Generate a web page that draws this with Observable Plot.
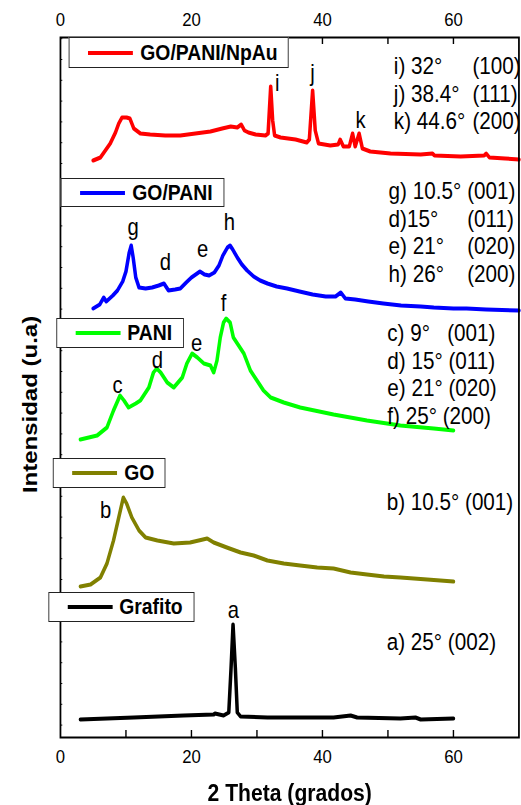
<!DOCTYPE html>
<html>
<head>
<meta charset="utf-8">
<script src="https://cdn.jsdelivr.net/npm/d3@7"></script>
<script src="https://cdn.jsdelivr.net/npm/@observablehq/plot@0.6"></script>
<style>
  html, body { margin: 0; padding: 0; background: #fff; overflow: hidden; }
  /* the figure is laid out wide and condensed horizontally, like the exported figure */
  #figure { position: relative; width: 592px; height: 805px; transform: scaleX(0.88); transform-origin: 0 0;
            font-family: "Liberation Sans", Arial, sans-serif; }
  .key { position: absolute; box-sizing: border-box; height: 30px; border: 1px solid #222; background: #fff;
         display: flex; align-items: center; padding: 0 12px 0 21px; font-weight: bold; font-size: 22px;
         white-space: nowrap; color: #000; }
  .key .swatch { width: 51px; height: 4px; margin-right: 8px; }
</style>
</head>
<body>
<div id="figure"></div>
<script>
// XRD patterns, [2θ (°), intensity (u.a., stacked offsets)]
const npauPattern = [
  [5.0,577],[6.1,580],[7.6,594],[8.4,605],[8.9,614],[9.4,620],[10.1,620],[10.6,619],[11.2,609],[12.2,604],
  [13.7,603],[16.0,602],[18.3,602],[20.6,604],[22.9,606],[24.7,609],[26.0,611],[27.0,610],[27.6,613],[28.1,607],
  [28.7,605],[29.8,603],[31.3,602],[31.7,604],[32.1,651],[32.4,617],[32.7,602],[33.6,600],[35.9,598],[37.6,595],
  [38.0,598],[38.5,647],[38.9,607],[39.4,594],[41.2,592],[42.4,593],[42.7,598],[43.2,591],[44.1,591],[44.6,604],
  [45.0,591],[45.6,604],[46.1,589],[47.3,586],[50.4,584],[55.0,583],[56.8,584],[57.1,582],[61.1,581],[64.7,582],
  [65.0,584],[65.5,580],[67.9,579],[70.0,578]
];
const goPaniPattern = [
  [5.0,429],[6.0,433],[6.6,440],[7.0,436],[8.0,442],[8.7,447],[9.5,456],[10.0,466],[10.5,485],[10.8,492],
  [11.1,480],[11.5,460],[12.0,450],[13.0,449],[14.0,450],[15.0,452],[15.8,454],[16.5,447],[17.5,448],[18.3,449],
  [19.2,455],[20.0,460],[21.3,466],[22.0,463],[22.7,462],[23.5,465],[24.2,472],[24.8,482],[25.5,490],[25.9,492],
  [26.3,488],[27.0,480],[27.7,473],[28.5,467],[29.5,461],[30.5,457],[31.6,454],[33.0,451],[34.6,449],[36.5,446],
  [38.5,443],[40.5,441],[42.0,441],[42.8,445],[43.5,439],[45.0,438],[47.0,436],[49.3,434],[52.0,432],[55.0,431],
  [57.0,430],[60.0,429],[62.0,429],[65.0,428],[70.0,427]
];
const paniPattern = [
  [3.05,298],[5.6,302],[7.1,310],[8.1,327],[9.1,342],[9.7,337],[10.4,330],[11.5,334],[12.2,337],[13.5,350],
  [14.2,365],[14.7,369],[15.3,365],[16.3,355],[17.3,350],[18.6,360],[19.3,374],[20.1,384],[20.9,380],[21.9,374],
  [22.9,372],[23.4,365],[23.9,377],[24.4,400],[24.9,415],[25.3,419],[25.9,415],[26.4,400],[27.0,394],[28.0,384],
  [29.0,367],[30.0,357],[31.0,347],[32.1,340],[34.1,335],[36.6,330],[41.7,323],[46.8,317],[51.9,312],[57.0,309],
  [60.0,307]
];
const goPattern = [
  [3.05,151],[4.6,153],[6.1,160],[7.1,174],[8.1,197],[8.9,220],[9.6,240],[10.1,234],[10.9,220],[12.0,207],
  [13.0,200],[14.8,197],[17.3,194],[19.8,195],[22.4,199],[23.4,195],[25.4,190],[27.5,185],[29.5,182],[31.6,177],
  [34.1,174],[36.6,172],[39.2,170],[41.7,169],[44.3,165],[46.8,163],[49.4,161],[51.9,160],[56.0,158],[60.0,156]
];
const grafitoPattern = [
  [3.05,18],[11.2,20],[18.8,22],[23.4,23],[23.6,24],[24.9,22],[25.7,25],[26.05,70],[26.35,113],[26.7,70],
  [27.0,25],[27.5,21],[31.6,20],[41.7,20],[44.3,22],[45.3,20],[51.9,19],[54.2,20],[55.0,18],[60.0,19]
];

const sampleNames = ["GO/PANI/NpAu", "GO/PANI", "PANI", "GO", "Grafito"];
const samplePatterns = [npauPattern, goPaniPattern, paniPattern, goPattern, grafitoPattern];
const sampleColors = ["#ff0000", "#0000ff", "#00ff00", "#808000", "#000000"];

// peak letters, with the 2θ and intensity at which each letter sits
const peakLetters = ["i", "j", "k", "g", "d", "e", "h", "c", "d", "e", "f", "b", "a"];
const peakTheta   = [33.1, 38.5, 45.8, 11.1, 16.0, 21.7, 25.8, 8.7, 14.8, 20.8, 24.9, 6.9, 26.4];
const peakLevel   = [654, 664, 617, 510, 475, 488, 515, 352, 377, 394, 434, 227, 127];

// reflection assignments listed beside each pattern
const npauNotes = ["i) 32°", "j) 38.4°", "k) 44.6°"];
const npauPlanes = ["(100)", "(111)", "(200)"];
const goPaniNotes = ["g) 10.5°", "d)15°", "e) 21°", "h) 26°"];
const goPaniPlanes = ["(001)", "(011)", "(020)", "(200)"];
const paniNotes = ["c) 9°\u00a0\u00a0\u00a0(001)", "d) 15° (011)", "e) 21° (020)", "f) 25° (200)"];
const goNotes = ["b) 10.5° (001)"];
const grafitoNotes = ["a) 25° (002)"];

const xTickLabels = [0, 20, 40, 60];
const xMinorTicks = [10, 20, 30, 40, 50, 60];

// ---- build tables for the marks ----
const rows = samplePatterns.flatMap((pts, k) =>
  pts.map(([theta, intensity]) => ({sample: sampleNames[k], theta, intensity})));

const peaks = peakLetters.map((letter, i) => ({letter, theta: peakTheta[i], level: peakLevel[i]}));

// a column of notes: start 2θ, first-line intensity, line step
function column(texts, theta, top, step) {
  return texts.map((text, i) => ({text, theta, level: top - i * step}));
}
const notes = [
  ...column(npauNotes, 50.9, 671, 27.5),
  ...column(npauPlanes, 62.9, 671, 27.5),
  ...column(goPaniNotes, 50.1, 546, 27.7),
  ...column(goPaniPlanes, 62.1, 546, 27.7),
  ...column(paniNotes, 49.9, 404, 27.7),
  ...column(goNotes, 49.8, 235, 0),
  ...column(grafitoNotes, 49.8, 95, 0)
];

const leftTicks = d3.range(12.4, 700, 20.8);

const chart = Plot.plot({
  width: 592,
  height: 805,
  marginLeft: 68.2,
  marginRight: 2.8,
  marginTop: 37,
  marginBottom: 68,
  style: {fontFamily: "'Liberation Sans', Arial, sans-serif", fontSize: "19px", color: "#000", background: "#fff", overflow: "visible"},
  x: {domain: [0, 70], axis: "both", ticks: xTickLabels, tickSize: 0, tickPadding: 12, label: null},
  y: {domain: [0, 700], axis: null},
  color: {domain: sampleNames, range: sampleColors},
  marks: [
    Plot.line(rows, {x: "theta", y: "intensity", z: "sample", stroke: "sample",
                     strokeWidth: 4, strokeLinejoin: "round", strokeLinecap: "round"}),
    Plot.frame({stroke: "#000", strokeWidth: 2}),
    Plot.ruleX(xMinorTicks, {x: d => d, y1: 0, y2: 7, stroke: "#000", strokeWidth: 1.6}),
    Plot.ruleX(xMinorTicks, {x: d => d, y1: 693, y2: 700, stroke: "#000", strokeWidth: 1.6}),
    Plot.ruleY(leftTicks, {y: d => d, x1: 0, x2: 0.35, stroke: "#000", strokeWidth: 1}),
    Plot.text(peaks, {x: "theta", y: "level", text: "letter", fontSize: 23, fill: "#000"}),
    Plot.text(notes, {x: "theta", y: "level", text: "text", textAnchor: "start", fontSize: 23.5, fill: "#000"}),
    Plot.text(["2 Theta (grados)"], {frameAnchor: "bottom", textAnchor: "middle", lineAnchor: "middle", dy: 56,
                                     fontSize: 24, fontWeight: "bold", fill: "#000"}),
    Plot.text(["Intensidad (u.a)"], {frameAnchor: "left", textAnchor: "middle", lineAnchor: "middle", rotate: -90,
                                     dx: -34, dy: 17, fontSize: 24, fontWeight: "bold", fill: "#000"})
  ]
});

const figure = document.getElementById("figure");
figure.appendChild(chart);

// sample keys, each boxed over its own pattern
const keyBoxes = [
  {left: 78.4, top: 37, height: 31},
  {left: 69.3, top: 178, height: 29},
  {left: 63.6, top: 318, height: 30},
  {left: 60.2, top: 458, height: 30},
  {left: 54.5, top: 592, height: 30}
];
sampleNames.forEach((name, k) => {
  const box = document.createElement("div");
  box.className = "key";
  box.style.left = keyBoxes[k].left + "px";
  box.style.top = keyBoxes[k].top + "px";
  box.style.height = keyBoxes[k].height + "px";
  const sw = document.createElement("span");
  sw.className = "swatch";
  sw.style.background = sampleColors[k];
  const label = document.createElement("span");
  label.textContent = name;
  box.append(sw, label);
  figure.appendChild(box);
});
</script>
</body>
</html>
